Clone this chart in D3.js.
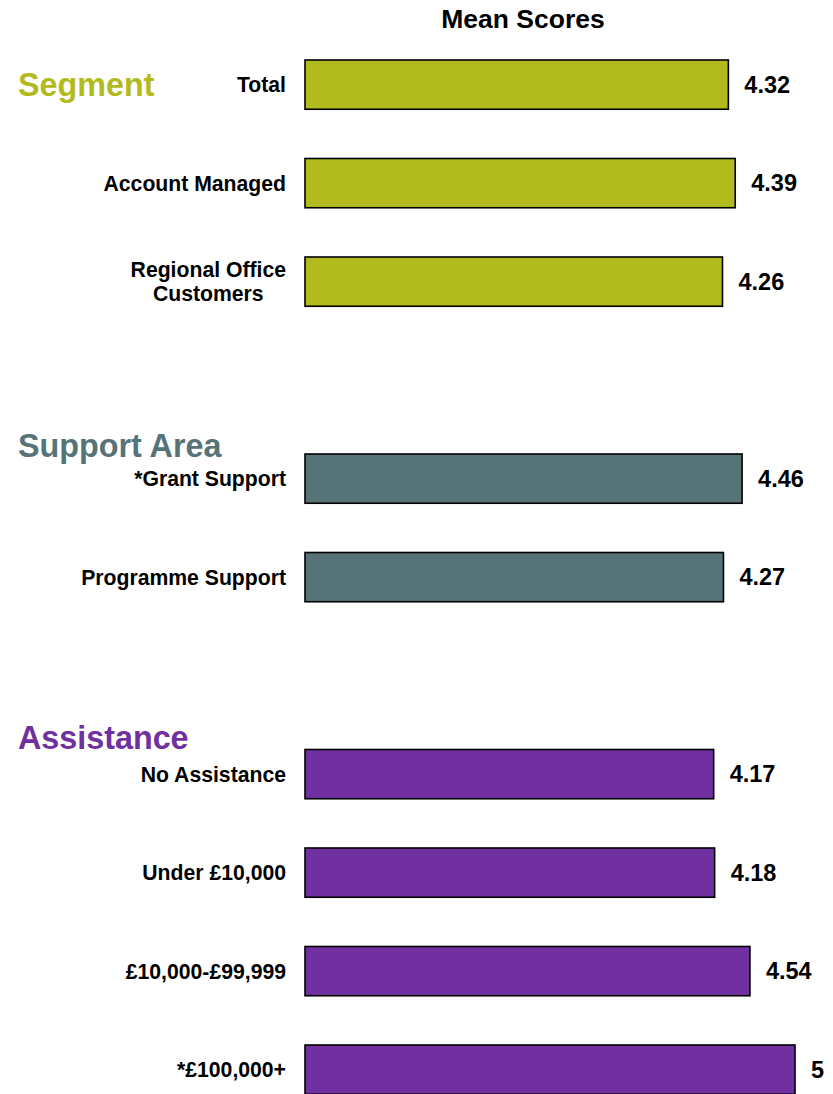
<!DOCTYPE html>
<html>
<head>
<meta charset="utf-8">
<script src="https://cdn.jsdelivr.net/npm/d3@7"></script>
<style>
  html, body { margin: 0; padding: 0; background: #ffffff; }
  svg { display: block; font-family: "Liberation Sans", Arial, Helvetica, sans-serif; }
</style>
</head>
<body>
<svg id="chart" width="833" height="1094"></svg>
<script>
// Row keys in display order; gap rows separate the three groups
const rowKeys = ["total", "account", "regional", "gap1", "grant", "programme", "gap2", "none", "under10k", "10k-100k", "100kplus"];
const categories = ["Total", "Account Managed", "Regional Office\nCustomers", "*Grant Support", "Programme Support",
  "No Assistance", "Under £10,000", "£10,000-£99,999", "*£100,000+"];
const barKeys = ["total", "account", "regional", "grant", "programme", "none", "under10k", "10k-100k", "100kplus"];
const meanScores = [4.32, 4.39, 4.26, 4.46, 4.27, 4.17, 4.18, 4.54, 5];
const groupOf = ["Segment", "Segment", "Segment", "Support Area", "Support Area", "Assistance", "Assistance", "Assistance", "Assistance"];

const groupNames = ["Segment", "Support Area", "Assistance"];
const groupColors = ["#b2bb1e", "#567377", "#7030a0"];
const groupFirstRow = ["total", "grant", "none"];
const groupHeaderOffset = [0, -33, -36];

const svg = d3.select("#chart");

const x = d3.scaleLinear().domain([0, 5]).range([305, 795]);
const y = d3.scaleBand().domain(rowKeys).range([60, 60 + 11 * 98.5])
  .paddingInner(0.5).paddingOuter(0.25).align(0);
const color = d3.scaleOrdinal().domain(groupNames).range(groupColors);

const bars = barKeys.map((k, i) => ({ key: k, label: categories[i], value: meanScores[i], group: groupOf[i] }));

// Title
svg.append("text")
  .attr("x", 523).attr("y", 28)
  .attr("text-anchor", "middle")
  .attr("font-weight", "bold")
  .attr("font-size", 26.5)
  .attr("fill", "#000")
  .text("Mean Scores");

// Bars
svg.append("g").selectAll("rect").data(bars).join("rect")
  .attr("x", x(0))
  .attr("y", d => y(d.key))
  .attr("width", d => x(d.value) - x(0))
  .attr("height", y.bandwidth())
  .attr("fill", d => color(d.group))
  .attr("stroke", "#000")
  .attr("stroke-width", 1.6);

// Value labels
svg.append("g").selectAll("text").data(bars).join("text")
  .attr("x", d => x(d.value) + 16)
  .attr("y", d => y(d.key) + y.bandwidth() / 2)
  .attr("dy", "0.35em")
  .attr("font-weight", "bold")
  .attr("font-size", 23.5)
  .attr("fill", "#000")
  .text(d => String(d.value));

// Category labels (right-aligned; multi-line labels centred as a block)
const labelRight = 286;
const labelG = svg.append("g");
bars.forEach(d => {
  const lines = d.label.split("\n");
  const cy = y(d.key) + y.bandwidth() / 2;
  const t = labelG.append("text")
    .attr("font-weight", "bold")
    .attr("font-size", 21.2)
    .attr("fill", "#000");
  if (lines.length === 1) {
    t.attr("x", labelRight).attr("y", cy).attr("dy", "0.35em")
      .attr("text-anchor", "end").text(lines[0]);
  } else {
    const lh = 24;
    lines.forEach((ln, j) => {
      t.append("tspan").attr("text-anchor", "middle")
        .attr("y", cy + (j - (lines.length - 1) / 2) * lh)
        .attr("dy", "0.35em").text(ln);
    });
    let maxW = 0;
    t.selectAll("tspan").each(function () { maxW = Math.max(maxW, this.getComputedTextLength()); });
    t.selectAll("tspan").attr("x", labelRight - maxW / 2);
  }
});

// Group headers
svg.append("g").selectAll("text").data(groupNames).join("text")
  .attr("x", 18)
  .attr("y", (g, i) => y(groupFirstRow[i]) + y.bandwidth() / 2 + groupHeaderOffset[i])
  .attr("dy", "0.35em")
  .attr("font-weight", "bold")
  .attr("font-size", 32.3)
  .attr("fill", g => color(g))
  .text(g => g);
</script>
</body>
</html>
